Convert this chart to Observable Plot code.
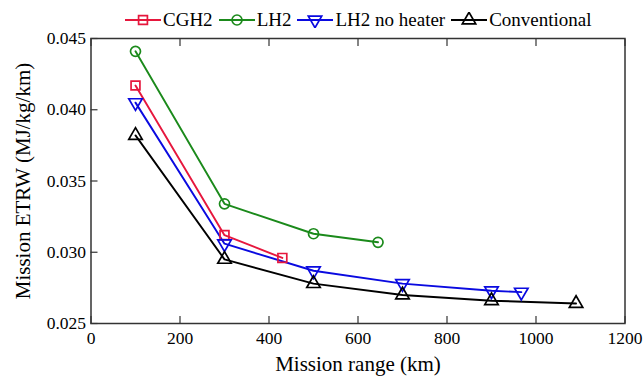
<!DOCTYPE html>
<html><head><meta charset="utf-8">
<script src="https://cdn.jsdelivr.net/npm/d3@7"></script>
<script src="https://cdn.jsdelivr.net/npm/@observablehq/plot@0.6"></script>
<style>
body{margin:0;background:#fff;}
#wrap{position:relative;width:643px;height:378px;font-family:'Liberation Serif','Times New Roman',Times,serif;}
#chart svg, #chart svg text{font-family:'Liberation Serif','Times New Roman',Times,serif;}
#legend{position:absolute;top:9px;left:125px;display:flex;align-items:center;font-size:19px;color:#000;white-space:nowrap;}
#legend .item{display:flex;align-items:center;margin-right:6px;}
#legend svg{margin-right:2px;}
g[aria-label="x-axis label"] text, g[aria-label="y-axis label"] text{font-size:21px;}
</style></head>
<body><div id="wrap"><div id="chart"></div><div id="legend"></div></div>
<script>
const series = ["CGH2", "LH2", "LH2 no heater", "Conventional"];
const colors = ["#e6173d", "#1b8a1b", "#0a0ae0", "#000000"];
const cgh2Range = [100, 300, 430];
const cgh2Etrw = [0.0417, 0.0312, 0.0296];
const lh2Range = [100, 300, 500, 645];
const lh2Etrw = [0.0441, 0.0334, 0.0313, 0.0307];
const lh2nhRange = [100, 300, 500, 700, 900, 967];
const lh2nhEtrw = [0.0405, 0.0306, 0.0287, 0.0278, 0.0273, 0.0272];
const convRange = [100, 300, 500, 700, 900, 1090];
const convEtrw = [0.0382, 0.0295, 0.0278, 0.0270, 0.0266, 0.0264];
const xTicks = [0, 200, 400, 600, 800, 1000, 1200];
const yTicks = [0.025, 0.030, 0.035, 0.040, 0.045];

const triDown = {draw(ctx, size) {
  const y = -Math.sqrt(size / (Math.sqrt(3) * 3));
  const s = Math.sqrt(3);
  ctx.moveTo(0, -y * 2); ctx.lineTo(-s * y, y); ctx.lineTo(s * y, y); ctx.closePath();
}};
const symbols = [d3.symbolSquare, d3.symbolCircle, triDown, d3.symbolTriangle];

const rows = [];
[[cgh2Range, cgh2Etrw], [lh2Range, lh2Etrw], [lh2nhRange, lh2nhEtrw], [convRange, convEtrw]].forEach(([xs, ys], i) => {
  xs.forEach((x, j) => rows.push({series: series[i], range: x, etrw: ys[j]}));
});

const serif = "'Liberation Serif','Times New Roman',Times,serif";
const chart = Plot.plot({
  width: 643, height: 378,
  marginLeft: 90.5, marginRight: 18.5, marginTop: 38, marginBottom: 55,
  style: {fontFamily: serif, fontSize: "17.5px", color: "#000", background: "#fff"},
  x: {domain: [0, 1200]},
  y: {domain: [0.025, 0.045]},
  color: {domain: series, range: colors},
  symbol: {domain: series, range: symbols},
  marks: [
    Plot.line(rows, {x: "range", y: "etrw", z: "series", stroke: "series", strokeWidth: 1.9}),
    Plot.dot(rows, {x: "range", y: "etrw", stroke: "series", symbol: "series", fill: "none", r: 5, strokeWidth: 1.7}),
    Plot.axisX(xTicks, {tickSize: 0, tickPadding: 8, tickFormat: d3.format("d"), label: "Mission range (km)", labelAnchor: "center", labelArrow: "none", labelOffset: 47}),
    Plot.axisX(xTicks, {tickSize: -7, tickFormat: () => "", label: null, stroke: "#333", strokeWidth: 1.2}),
    Plot.axisX(xTicks, {anchor: "top", tickSize: -7, tickFormat: () => "", label: null, stroke: "#333", strokeWidth: 1.2}),
    Plot.axisY(yTicks, {tickSize: 0, tickPadding: 5, tickFormat: d3.format(".3f"), label: "Mission ETRW (MJ/kg/km)", labelAnchor: "center", labelArrow: "none", labelOffset: 76}),
    Plot.axisY(yTicks, {tickSize: -7, tickFormat: () => "", label: null, stroke: "#333", strokeWidth: 1.2}),
    Plot.frame({stroke: "#333", strokeWidth: 1.5})
  ]
});
document.getElementById("chart").appendChild(chart);

const legend = d3.select("#legend");
series.forEach((s, i) => {
  const item = legend.append("div").attr("class", "item");
  const svg = item.append("svg").attr("width", 36).attr("height", 16);
  svg.append("line").attr("x1", 0).attr("x2", 36).attr("y1", 8).attr("y2", 8).attr("stroke", colors[i]).attr("stroke-width", 1.9);
  svg.append("path").attr("transform", "translate(18,8)").attr("d", d3.symbol(symbols[i], 78)()).attr("fill", "none").attr("stroke", colors[i]).attr("stroke-width", 1.7);
  item.append("span").text(s);
});
</script>
</body></html>
